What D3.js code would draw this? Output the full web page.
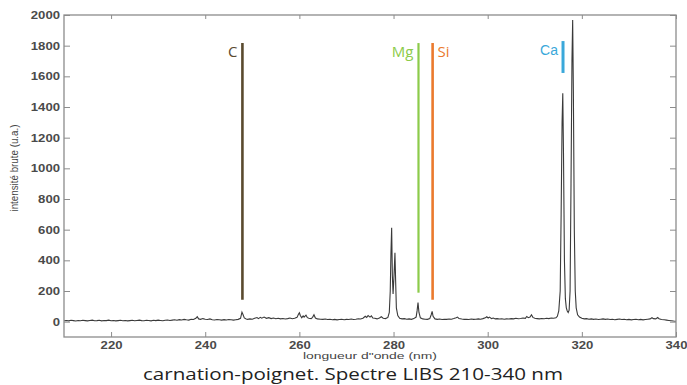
<!DOCTYPE html>
<html><head><meta charset="utf-8">
<script src="https://cdn.jsdelivr.net/npm/d3@7"></script>
<style>body{margin:0;background:#fff}</style>
</head><body>
<svg id="chart" width="687" height="385"></svg>
<script>
// ---- data ----
const spectrumPoints = [
[210,6],[210.5,8],[211,5],[211.5,9],[212,7],[212.5,4],[213,8],[213.5,6],[214,9],[214.5,7],[215,5],[215.5,8],[216,10],[216.5,6],[217,7],[217.5,9],[218,5],[218.5,8],[219,7],[219.5,10],
[220,6],[220.5,8],[221,5],[221.5,7],[222,9],[222.5,6],[223,8],[223.5,5],[224,7],[224.5,9],[225,6],[225.5,8],[226,10],[226.5,7],[227,6],[227.5,9],[228,8],[228.5,5],[229,9],[229.5,7],
[230,10],[230.5,8],[231,6],[231.5,9],[232,11],[232.5,8],[233,10],[233.5,12],[234,9],[234.5,13],[235,11],[235.5,15],[236,12],[236.5,10],[237,16],[237.5,14],[238,22],[238.3,32],[238.6,18],[239,15],[239.5,20],
[240,16],[240.5,14],[241,18],[241.5,13],[242,11],[242.5,14],[243,12],[243.5,10],[244,13],[244.5,11],[245,14],[245.5,12],[246,10],[246.5,13],[247,15],[247.5,22],[247.8,62],[248.0,48],[248.3,24],[248.7,17],
[249,15],[249.5,18],[250,16],[250.5,22],[251,27],[251.3,20],[251.7,28],[252,23],[252.5,30],[253,22],[253.5,26],[254,20],[254.5,24],[255,19],[255.5,22],[256,18],[256.5,21],[257,17],[257.5,20],[258,24],[258.5,19],[259,22],[259.5,28],
[259.8,48],[260.0,58],[260.2,40],[260.5,26],[260.8,38],[261.0,30],[261.4,42],[261.7,26],[262,22],[262.5,20],[262.8,28],[263.1,45],[263.4,24],[263.8,18],[264.5,16],[265,15],[265.5,17],[266,14],[266.5,16],[267,13],[267.5,15],
[268,12],[268.5,14],[269,16],[269.5,13],[270,15],[270.5,14],[271,17],[271.5,14],[272,16],[272.5,19],[273,17],[273.5,22],[274,35],[274.3,28],[274.6,40],[275,30],[275.3,38],[275.6,24],[276,22],[276.5,18],[277,24],[277.4,32],[277.8,22],
[278.3,20],[278.8,28],[279.1,60],[279.3,200],[279.45,450],[279.6,612],[279.75,300],[279.9,180],[280.1,300],[280.3,450],[280.45,260],[280.6,90],[280.9,40],[281.3,22],[281.8,18],[282.3,20],[282.8,16],[283.3,18],[283.8,15],[284.3,20],
[284.8,30],[285.0,70],[285.2,124],[285.4,60],[285.7,25],[286.2,18],[286.7,16],[287.2,15],[287.7,20],[288.0,45],[288.2,67],[288.4,35],[288.8,18],[289.3,15],[289.8,17],[290.3,14],[290.8,16],[291.3,15],[291.8,17],[292.3,16],[292.8,20],
[293.3,26],[293.6,30],[293.9,20],[294.5,17],[295,15],[295.5,16],[296,14],[296.5,17],[297,15],[297.5,16],[298,18],[298.5,16],[299,20],[299.5,25],[299.8,32],[300.1,24],[300.4,30],[300.8,20],[301.2,24],[301.6,18],[302,20],[302.5,17],
[303,19],[303.5,16],[304,18],[304.5,17],[305,20],[305.5,18],[306,22],[306.5,19],[307,21],[307.5,24],[308,22],[308.3,34],[308.6,26],[309,30],[309.3,45],[309.6,28],[310,22],[310.5,20],[311,18],[311.5,21],[312,19],[312.5,22],
[313,20],[313.5,24],[314,22],[314.5,26],[314.8,35],[315.1,70],[315.4,200],[315.6,700],[315.8,1300],[315.95,1490],[316.1,1100],[316.3,400],[316.5,150],[316.7,90],[316.9,70],[317.1,60],[317.3,75],[317.5,200],[317.7,900],
[317.9,1700],[318.05,1967],[318.2,1500],[318.4,600],[318.6,200],[318.8,90],[319.1,45],[319.5,30],[320,22],[320.5,18],[321,20],[321.5,16],[322,18],[322.5,15],[323,17],[323.5,14],[324,16],[324.5,18],[325,15],[325.5,17],
[326,14],[326.5,16],[327,13],[327.5,15],[328,17],[328.5,14],[329,16],[329.5,13],[330,15],[330.5,12],[331,14],[331.5,16],[332,13],[332.5,15],[333,12],[333.5,14],[334,16],[334.5,18],[334.9,26],[335.2,20],[335.7,18],[336.1,27],
[336.4,19],[336.9,14],[337.5,12],[338,10],[338.5,8],[339,6],[339.5,4],[340,3]
];
const xTickValues = [220, 240, 260, 280, 300, 320, 340];
const yTickValues = [0, 200, 400, 600, 800, 1000, 1200, 1400, 1600, 1800, 2000];
const elementNames = ["C", "Mg", "Si", "Ca"];
const elementWavelengths = [247.9, 285.3, 288.3, 316.0];
const elementLineTop = [1817, 1817, 1817, 1830];
const elementLineBottom = [143, 189, 143, 1622];
const xTitle = 'longueur d"onde (nm)';
const yTitle = 'intensité brute (u.a.)';
const chartTitle = 'carnation-poignet. Spectre LIBS 210-340 nm';

// ---- styles ----
const elementStyle = {
  C:  {color: "#5a4a2e", width: 2.6, side: "left",  font: "'Open Sans'", size: 15},
  Mg: {color: "#8ccb4a", width: 2.2, side: "left",  font: "'Open Sans'", size: 15},
  Si: {color: "#eb7a2e", width: 2.6, side: "right", font: "'Open Sans'", size: 15},
  Ca: {color: "#3aa8da", width: 3,   side: "left",  font: "'Liberation Sans'", size: 14}
};

const svg = d3.select("#chart");
const L = 64, R = 676, T = 15, B = 337;
const x = d3.scaleLinear().domain([210, 340]).range([L, R]);
const y = d3.scaleLinear().domain([-100, 2000]).range([B, T]);
const axisColor = "#8c8c8c";
const labelColor = "#4a4a4a";

function stretch(sel, k) {
  sel.each(function() {
    const w = this.getComputedTextLength();
    this.setAttribute("textLength", w * k);
    this.setAttribute("lengthAdjust", "spacingAndGlyphs");
  });
}

// spectrum
const line = d3.line().x(d => x(d[0])).y(d => y(d[1]));
svg.append("path").datum(spectrumPoints)
  .attr("d", line).attr("fill", "none")
  .attr("stroke", "#3a3a3a").attr("stroke-width", 1.1);

// element lines
const elements = elementNames.map((n, i) => ({name: n, wl: elementWavelengths[i], top: elementLineTop[i], bottom: elementLineBottom[i]}));
svg.selectAll("line.el").data(elements).join("line").attr("class", "el")
  .attr("x1", d => x(d.wl)).attr("x2", d => x(d.wl))
  .attr("y1", d => y(d.top)).attr("y2", d => y(d.bottom))
  .attr("stroke", d => elementStyle[d.name].color)
  .attr("stroke-width", d => elementStyle[d.name].width);
svg.selectAll("text.el").data(elements).join("text").attr("class", "el")
  .attr("x", d => x(d.wl) + (elementStyle[d.name].side === "left" ? -5 : 5))
  .attr("y", d => y(d.top) + 14)
  .attr("text-anchor", d => elementStyle[d.name].side === "left" ? "end" : "start")
  .attr("font-family", d => elementStyle[d.name].font)
  .attr("font-size", d => elementStyle[d.name].size)
  .attr("fill", d => elementStyle[d.name].color)
  .text(d => d.name);

// frame
svg.append("rect").attr("x", L).attr("y", T).attr("width", R - L).attr("height", B - T)
  .attr("fill", "none").attr("stroke", axisColor).attr("stroke-width", 1.3);

function styleAxis(g) {
  g.select(".domain").remove();
  g.selectAll(".tick line").attr("stroke", axisColor);
  g.selectAll(".tick text").attr("fill", labelColor)
    .attr("font-family", "'Liberation Sans', Arial, sans-serif").attr("font-size", 10.5)
    .attr("font-weight", "bold");
}

const gx = svg.append("g").attr("transform", `translate(0,${B})`)
  .call(d3.axisBottom(x).tickValues(xTickValues).tickSize(-5).tickSizeOuter(0).tickPadding(5).tickFormat(d3.format("d")))
  .call(styleAxis);
const gy = svg.append("g").attr("transform", `translate(${L},0)`)
  .call(d3.axisLeft(y).tickValues(yTickValues).tickSize(-6).tickSizeOuter(0).tickPadding(4).tickFormat(d3.format("d")))
  .call(styleAxis);
svg.append("g").attr("transform", `translate(0,${T})`)
  .call(d3.axisTop(x).tickValues(xTickValues).tickSize(-4).tickSizeOuter(0).tickFormat(""))
  .call(styleAxis);
svg.append("g").attr("transform", `translate(${R},0)`)
  .call(d3.axisRight(y).tickValues(yTickValues).tickSize(-6).tickSizeOuter(0).tickFormat(""))
  .call(styleAxis);
stretch(gx.selectAll(".tick text"), 1.25);
stretch(gy.selectAll(".tick text"), 1.25);

// titles
svg.append("text").attr("x", 370).attr("y", 359).attr("text-anchor", "middle")
  .attr("font-family", "'Liberation Sans', Arial, sans-serif").attr("font-size", 9.5)
  .attr("fill", "#444").attr("textLength", 134).attr("lengthAdjust", "spacingAndGlyphs")
  .text(xTitle);
svg.append("text").attr("transform", "translate(18,168) rotate(-90)").attr("text-anchor", "middle")
  .attr("font-family", "'Liberation Sans', Arial, sans-serif").attr("font-size", 10)
  .attr("fill", "#444").attr("textLength", 87).attr("lengthAdjust", "spacingAndGlyphs")
  .text(yTitle);
svg.append("text").attr("x", 353).attr("y", 380).attr("text-anchor", "middle")
  .attr("font-family", "'Open Sans', sans-serif").attr("font-size", 17)
  .attr("fill", "#222").attr("textLength", 420).attr("lengthAdjust", "spacingAndGlyphs")
  .text(chartTitle);
</script>
</body></html>
